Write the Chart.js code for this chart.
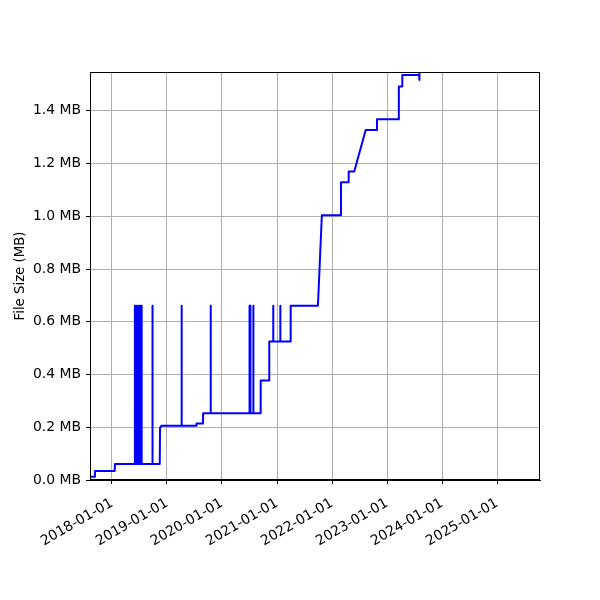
<!DOCTYPE html>
<html>
<head>
<meta charset="utf-8">
<script src="https://cdn.jsdelivr.net/npm/chart.js@4/dist/chart.umd.min.js"></script>
<style>
html,body{margin:0;padding:0;background:#fff;}
#c{display:block;}
</style>
</head>
<body>
<canvas id="c" width="600" height="600"></canvas>
<script>
const dates = [
"2017-08-08","2017-09-09","2017-09-10","2018-01-19","2018-01-21",
"2018-06-01","2018-06-02","2018-06-05","2018-06-08","2018-06-12","2018-06-15","2018-06-17",
"2018-06-25","2018-06-27","2018-07-01","2018-07-04","2018-07-08","2018-07-11","2018-07-14","2018-07-16","2018-07-18",
"2018-09-24","2018-09-25","2018-09-29","2018-11-14","2018-11-16","2018-11-26",
"2019-04-07","2019-04-08","2019-04-09","2019-07-15","2019-07-16","2019-08-28","2019-08-29",
"2019-10-17","2019-10-18","2019-10-19",
"2020-06-30","2020-07-01","2020-07-03","2020-07-06","2020-07-08","2020-07-26","2020-07-27","2020-07-28",
"2020-09-13","2020-09-14","2020-11-09","2020-11-10","2020-12-05","2020-12-06","2020-12-07",
"2021-01-21","2021-01-22","2021-01-23","2021-03-31","2021-04-01","2021-09-29","2021-10-25",
"2022-02-28","2022-03-01","2022-04-20","2022-04-21","2022-05-28","2022-08-12","2022-10-25","2022-10-26",
"2023-03-19","2023-03-20","2023-04-11","2023-04-12","2023-08-02","2023-08-03","2023-08-04"
];
const sizesMB = [
0.0125,0.0125,0.034,0.034,0.061,
0.061,0.661,0.061,0.661,0.061,0.661,0.061,
0.061,0.661,0.061,0.661,0.061,0.661,0.061,0.661,0.061,
0.061,0.661,0.061,0.061,0.198,0.206,
0.206,0.661,0.206,0.206,0.214,0.214,0.253,
0.253,0.661,0.253,
0.253,0.661,0.253,0.661,0.253,0.253,0.661,0.253,
0.253,0.377,0.377,0.525,0.525,0.661,0.525,
0.525,0.661,0.525,0.525,0.661,0.661,1.004,
1.004,1.129,1.129,1.170,1.170,1.327,1.327,1.368,
1.368,1.492,1.492,1.536,1.536,1.547,1.517
];
const yTicks = [0.0,0.2,0.4,0.6,0.8,1.0,1.2,1.4];
const xTickYears = [2018,2019,2020,2021,2022,2023,2024,2025];
const xMin = "2017-08-08";
const xMax = "2025-10-12";
const yMax = 1.547;

const toMs = s => Date.parse(s + "T00:00:00Z");
const points = dates.map((d,i) => ({x: toMs(d), y: sizesMB[i]}));

const frame = {
  id: 'frame',
  afterDatasetsDraw(chart) {
    const a = chart.chartArea, ctx = chart.ctx;
    ctx.save();
    ctx.strokeStyle = '#000';
    ctx.lineWidth = 1;
    ctx.strokeRect(Math.round(a.left)+0.5, Math.round(a.top)+0.5, Math.round(a.right-a.left)-1, Math.round(a.bottom-a.top)-1);
    ctx.restore();
  }
};

const font = {family: "'DejaVu Sans'", size: 13.9};

new Chart(document.getElementById('c'), {
  type: 'line',
  data: {datasets: [{data: points, borderColor: '#0000ff', borderWidth: 2, pointRadius: 0, tension: 0, fill: false, borderJoinStyle: 'round'}]},
  options: {
    responsive: false,
    animation: false,
    devicePixelRatio: 1,
    layout: {padding: {left: 0, right: 60, top: 72, bottom: 0}},
    plugins: {legend: {display: false}, tooltip: {enabled: false}},
    scales: {
      x: {
        type: 'linear',
        min: toMs(xMin), max: toMs(xMax),
        afterBuildTicks: s => { s.ticks = xTickYears.map(y => ({value: Date.UTC(y,0,1)})); },
        afterFit: s => { s.height = 120; },
        grid: {color: '#b0b0b0', lineWidth: 1, tickColor: '#000', tickLength: 4},
        border: {color: '#000'},
        ticks: {
          autoSkip: false, maxRotation: 30, minRotation: 30, padding: 11, labelOffset: 0, color: '#000', font,
          callback: v => new Date(v).toISOString().slice(0,10)
        }
      },
      y: {
        min: 0, max: yMax,
        afterBuildTicks: s => { s.ticks = yTicks.map(v => ({value: v})); },
        afterFit: s => { s.width = 90; },
        grid: {color: '#b0b0b0', lineWidth: 1, tickColor: '#000', tickLength: 4},
        border: {color: '#000'},
        ticks: {padding: 5, color: '#000', font, callback: v => v.toFixed(1) + ' MB'},
        title: {display: true, text: 'File Size (MB)', color: '#000', font: {family: "'DejaVu Sans'", size: 13.3}, padding: {top: 13, bottom: 0}}
      }
    }
  },
  plugins: [frame]
});
</script>
</body>
</html>
